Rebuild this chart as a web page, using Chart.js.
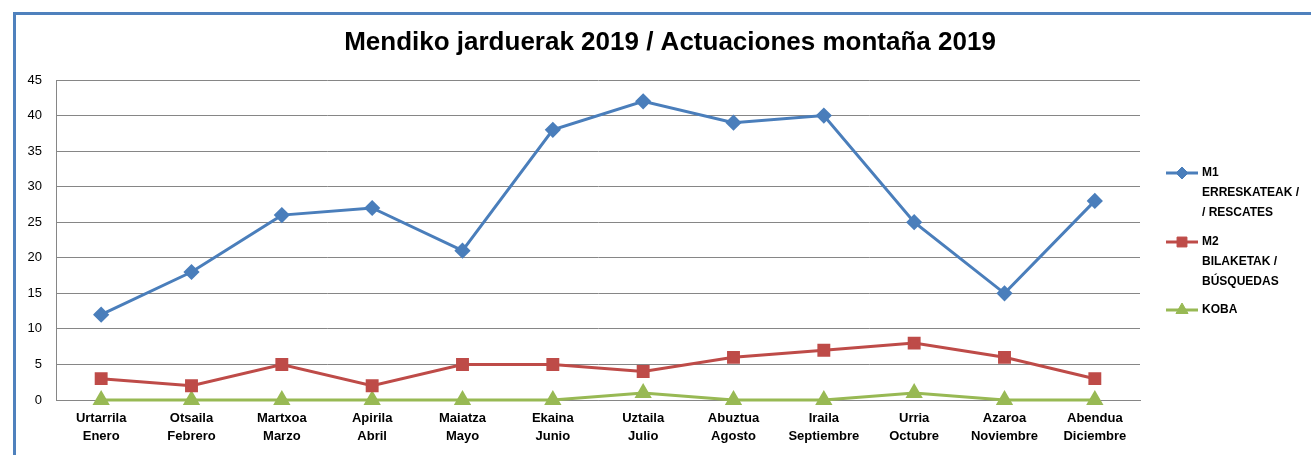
<!DOCTYPE html>
<html>
<head>
<meta charset="utf-8">
<script src="https://cdn.jsdelivr.net/npm/chart.js@4/dist/chart.umd.min.js"></script>
<style>
  html, body { margin: 0; padding: 0; background: #fff; overflow: hidden; }
  #wrap { position: relative; width: 1311px; height: 455px; }
  #frame { position: absolute; left: 13px; top: 12px; width: 1400px; height: 500px;
           border-left: 3px solid #4f81bd; border-top: 3px solid #4f81bd; }
  canvas { position: absolute; left: 0; top: 0; }
</style>
</head>
<body>
<div id="wrap">
  <div id="frame"></div>
  <canvas id="chart" width="1311" height="455"></canvas>
</div>
<script>
// Months (Basque / Spanish)
const months = [
    ['Urtarrila', 'Enero'], ['Otsaila', 'Febrero'], ['Martxoa', 'Marzo'], ['Apirila', 'Abril'],
    ['Maiatza', 'Mayo'], ['Ekaina', 'Junio'], ['Uztaila', 'Julio'], ['Abuztua', 'Agosto'],
    ['Iraila', 'Septiembre'], ['Urria', 'Octubre'], ['Azaroa', 'Noviembre'], ['Abendua', 'Diciembre']
];

// Series values
const rescates = [12, 18, 26, 27, 21, 38, 42, 39, 40, 25, 15, 28];
const busquedas = [3, 2, 5, 2, 5, 5, 4, 6, 7, 8, 6, 3];
const koba = [0, 0, 0, 0, 0, 0, 1, 0, 0, 1, 0, 0];

// Legend labels (one line per entry)
const legendLabels = [
    ['M1', 'ERRESKATEAK /', '/ RESCATES'],
    ['M2', 'BILAKETAK /', 'BÚSQUEDAS'],
    ['KOBA']
];

const fontFamily = "'Liberation Sans', 'DejaVu Sans', sans-serif";

// Title and legend drawn by hand so the legend text can wrap
const extrasPlugin = {
    id: 'extras',
    afterDraw(chart) {
        const ctx = chart.ctx;
        ctx.save();
        ctx.fillStyle = '#000';
        ctx.font = 'bold 26px ' + fontFamily;
        ctx.textAlign = 'center';
        ctx.textBaseline = 'middle';
        ctx.fillText('Mendiko jarduerak 2019 / Actuaciones montaña 2019', 670, 43);

        const tops = [173, 242, 310];
        chart.data.datasets.forEach((ds, i) => {
            const y = tops[i];
            ctx.strokeStyle = ds.borderColor;
            ctx.fillStyle = ds.backgroundColor;
            ctx.lineWidth = 3;
            ctx.beginPath();
            ctx.moveTo(1166, y);
            ctx.lineTo(1198, y);
            ctx.stroke();
            ctx.lineWidth = 1;
            Chart.helpers.drawPoint(ctx, {
                pointStyle: ds.pointStyle,
                radius: ds.pointRadius,
                borderWidth: 1
            }, 1182, y);
            ctx.fillStyle = '#000';
            ctx.font = 'bold 12px ' + fontFamily;
            ctx.textAlign = 'left';
            legendLabels[i].forEach((t, k) => {
                ctx.fillText(t, 1202, y + k * 20);
            });
        });
        ctx.restore();
    }
};

const ctx = document.getElementById('chart').getContext('2d');

const chart = new Chart(ctx, {
    type: 'line',
    data: {
        labels: months,
        datasets: [
            {
                label: 'M1 ERRESKATEAK / RESCATES',
                data: rescates,
                borderColor: '#4a7ebb',
                backgroundColor: '#4a7ebb',
                pointStyle: 'rectRot',
                pointRadius: 6,
                borderWidth: 3
            },
            {
                label: 'M2 BILAKETAK / BÚSQUEDAS',
                data: busquedas,
                borderColor: '#be4b48',
                backgroundColor: '#be4b48',
                pointStyle: 'rect',
                pointRadius: 7,
                borderWidth: 3
            },
            {
                label: 'KOBA',
                data: koba,
                borderColor: '#98b954',
                backgroundColor: '#98b954',
                pointStyle: 'triangle',
                pointRadius: 7,
                borderWidth: 3
            }
        ]
    },
    options: {
        responsive: false,
        animation: false,
        clip: false,
        layout: { padding: { top: 80, right: 171, left: 0, bottom: 0 } },
        plugins: {
            legend: { display: false },
            title: { display: false },
            tooltip: { enabled: false }
        },
        scales: {
            x: {
                offset: true,
                grid: { display: false, drawTicks: false },
                border: { color: '#868686', width: 1 },
                ticks: {
                    color: '#000',
                    padding: 9,
                    maxRotation: 0,
                    autoSkip: false,
                    font: { family: fontFamily, size: 13, weight: 'bold', lineHeight: 1.4 }
                },
                afterFit(scale) { scale.height = 55; }
            },
            y: {
                min: 0,
                max: 45,
                ticks: {
                    stepSize: 5,
                    color: '#000',
                    padding: 14,
                    font: { family: fontFamily, size: 13 }
                },
                grid: { color: '#868686', drawTicks: false },
                border: { color: '#868686', width: 1 },
                afterFit(scale) { scale.width = 56; }
            }
        }
    },
    plugins: [extrasPlugin]
});
</script>
</body>
</html>
